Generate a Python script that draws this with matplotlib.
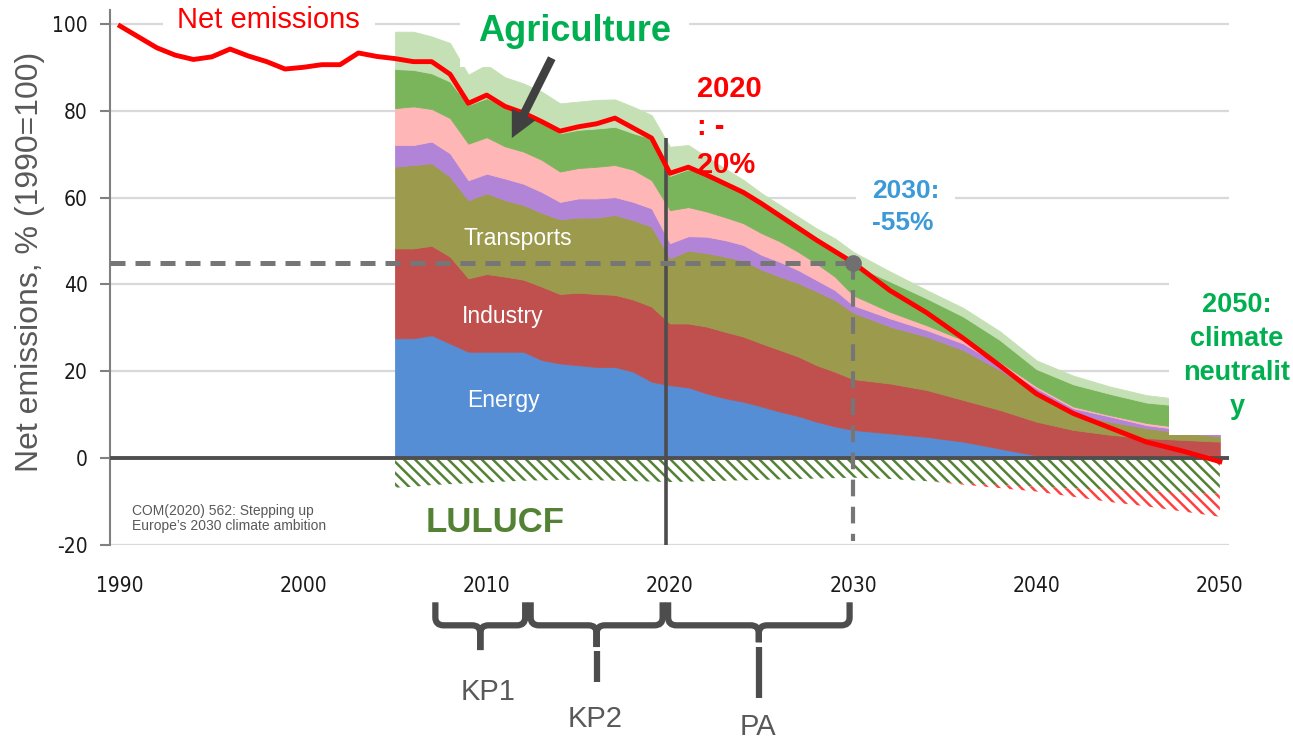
import matplotlib
matplotlib.use("Agg")
import matplotlib.pyplot as plt
from matplotlib import font_manager
from matplotlib.font_manager import FontProperties
from matplotlib.path import Path
from matplotlib.patches import PathPatch

plt.rcParams['font.family'] = ['Liberation Sans', 'DejaVu Sans']
plt.rcParams['hatch.linewidth'] = 1.8
plt.rcParams['axes.unicode_minus'] = False

# net emissions, % of 1990
line_years = list(range(1990, 2031)) + list(range(2032, 2051, 2))
net_emissions = [99.5, 97.0, 94.5, 92.8, 91.8, 92.4, 94.2, 92.6, 91.3, 89.6,
                 90.0, 90.6, 90.6, 93.3, 92.5, 92.0, 91.3, 91.3, 88.4, 81.7,
                 83.6, 81.0, 79.5, 77.5, 75.3, 76.3, 77.0, 78.3, 76.0, 73.7,
                 65.6, 67.0, 65.2, 63.2, 61.2, 58.6, 55.8, 53.0, 50.2, 47.6,
                 45.0, 38.6, 33.5, 27.6, 21.3, 14.8, 10.3, 7.0, 3.7, 1.6, -0.8]

# sector emissions (stacked), % of 1990
sector_years = list(range(2005, 2031)) + list(range(2032, 2051, 2))
energy = [27.6, 27.6, 28.3, 26.4, 24.5, 24.5, 24.5, 24.5, 22.6, 21.8,
          21.4, 21.0, 21.0, 19.9, 17.6, 16.8, 16.3, 14.9, 13.8, 13.0,
          11.9, 10.7, 9.7, 8.4, 7.3, 6.5,
          5.7, 4.9, 3.8, 2.2, 0.6, 0.3, 0.3, 0.3, 0.3, 0.3]
industry = [20.7, 20.7, 20.6, 20.0, 16.9, 17.9, 17.3, 16.6, 16.9, 16.0,
            16.7, 16.8, 16.6, 16.6, 17.3, 14.2, 14.7, 15.4, 15.3, 15.0,
            14.5, 14.2, 13.7, 13.0, 12.6, 11.7,
            11.5, 10.8, 9.6, 8.9, 7.8, 6.2, 5.1, 4.3, 3.9, 3.5]
transports = [18.8, 19.2, 19.0, 18.4, 18.0, 18.6, 17.6, 17.2, 17.0, 17.2,
              17.3, 17.6, 18.4, 18.3, 18.4, 15.0, 16.8, 16.9, 17.3, 17.5,
              17.0, 16.9, 16.9, 17.0, 16.5, 15.3,
              13.1, 12.3, 11.5, 9.2, 6.6, 3.8, 3.0, 2.3, 1.6, 1.2]
purple_sector = [5.0, 4.6, 5.0, 5.4, 4.6, 4.5, 5.0, 4.9, 4.8, 4.0,
                 4.4, 4.4, 4.1, 4.2, 4.2, 3.5, 3.3, 3.8, 3.8, 3.6,
                 3.4, 3.4, 3.0, 2.6, 2.3, 1.7,
                 1.9, 1.5, 1.5, 1.1, 1.1, 1.2, 1.2, 0.7, 0.7, 0.8]
pink_sector = [8.5, 8.9, 7.5, 8.1, 8.4, 8.4, 7.4, 7.4, 7.4, 7.0,
               7.0, 7.3, 7.4, 7.4, 6.5, 7.6, 6.7, 5.8, 5.3, 5.0,
               5.0, 4.7, 4.2, 3.8, 3.1, 2.3,
               1.5, 1.1, 0.8, 0.8, 0.4, 0.4, 0.3, 0.5, 0.5, 0.3]
agriculture = [9.0, 8.4, 8.2, 8.4, 8.9, 9.0, 9.1, 8.8, 9.2, 8.8,
               8.8, 8.8, 8.8, 8.4, 9.6, 7.9, 8.7, 8.5, 7.8, 7.2,
               7.0, 6.1, 5.7, 5.7, 6.0, 7.0,
               7.0, 6.2, 5.4, 5.0, 4.0, 5.1, 4.9, 4.7, 5.0, 5.4]
other_sectors = [8.6, 8.8, 8.5, 8.9, 7.0, 7.7, 6.8, 6.9, 6.5, 6.9,
                 6.5, 6.6, 6.3, 6.1, 5.4, 6.7, 5.6, 4.1, 3.4, 2.8,
                 2.2, 2.3, 2.4, 2.4, 2.8, 3.0,
                 2.3, 1.9, 2.0, 2.0, 2.0, 2.0, 1.7, 1.7, 1.5, 1.5]
# sinks
lulucf = [-6.8, -6.6, -6.2, -6.0, -5.8, -5.6, -5.4, -5.2, -5.1, -5.0,
          -5.0, -5.1, -5.2, -5.3, -5.4, -5.5, -5.4, -5.3, -5.2, -5.1,
          -5.0, -4.9, -4.8, -4.7, -4.6, -4.5,
          -4.8, -5.3, -5.8, -6.2, -6.6, -7.0, -7.3, -7.6, -7.9, -8.2]
removals = [0.0, 0.0, 0.0, 0.0, 0.0, 0.0, 0.0, 0.0, 0.0, 0.0,
            0.0, 0.0, 0.0, 0.0, 0.0, 0.0, 0.0, 0.0, 0.0, 0.0,
            0.0, 0.0, 0.0, 0.0, 0.0, 0.0,
            0.0, 0.0, -0.3, -0.7, -1.1, -1.9, -2.8, -3.5, -4.4, -5.3]

target_year, target_level = 2030, 45
ref_year = 2019.8

periods = ['KP1', 'KP2', 'PA']
brace_spans = [(2007.2, 2012.1), (2012.4, 2019.6), (2019.9, 2029.8)]

sector_colors = ['#558ed5', '#c0504d', '#9c9a4c', '#b284d8', '#ffb6b6',
                 '#7ab55c', '#c5e0b4']


def narrow_font():
    # look for a narrow / condensed sans face for the tick labels
    fonts = font_manager.fontManager.ttflist
    for f in fonts:
        if f.name in ('Liberation Sans Narrow', 'Arial Narrow') and f.weight in (400, 'normal') \
                and f.style == 'normal':
            return FontProperties(fname=f.fname), 16
    for f in fonts:
        cond = 'Condensed' in f.name or f.stretch in ('condensed', 'semi-condensed')
        if cond and ('Sans' in f.name or 'Roboto' in f.name) and f.style == 'normal' \
                and f.weight in (400, 'normal'):
            return FontProperties(fname=f.fname), 15
    return FontProperties(family='Liberation Sans'), 15


fig = plt.figure(figsize=(12.93, 7.44), dpi=100)
ax = fig.add_axes([0.0851, 0.2675, 0.8654, 0.7191])
x_left = 1989.45
ax.set_xlim(x_left, 2050.5)
ax.set_ylim(-20, 103.2)

ax.set_yticks(range(-20, 101, 20))
ax.set_xticks(range(1990, 2051, 10))
ax.grid(axis='y', color='#d9d9d9', lw=1.6)
ax.set_axisbelow(True)
for s in ['top', 'right', 'bottom']:
    ax.spines[s].set_visible(False)
ax.spines['left'].set_color('#808080')
ax.spines['left'].set_linewidth(1.5)

tick_fp, tick_size = narrow_font()
ax.tick_params(axis='y', length=7, width=1.5, color='#808080', pad=9,
               labelcolor='#1a1a1a')
ax.tick_params(axis='x', length=0, pad=22, labelcolor='#1a1a1a')
for lbl in ax.get_xticklabels() + ax.get_yticklabels():
    lbl.set_fontproperties(tick_fp)
    lbl.set_fontsize(tick_size)

# stacked sectors
ax.stackplot(sector_years, energy, industry, transports, purple_sector,
             pink_sector, agriculture, other_sectors, colors=sector_colors,
             linewidth=0.6, edgecolor='face', zorder=1)

# LULUCF and extra removals (hatched)
ax.fill_between(sector_years, 0, lulucf, facecolor='none',
                edgecolor='#548235', hatch='\\\\\\', linewidth=0, zorder=1)
low = [a + b for a, b in zip(lulucf, removals)]
ax.fill_between(sector_years, lulucf, low, facecolor='none',
                edgecolor='#ff4040', hatch='\\\\\\', linewidth=0, zorder=1)

ax.axhline(0, color='#4f4f4f', lw=2.8, zorder=4)
ax.vlines(ref_year, -20, 73.7, color='#4d4d4d', lw=2.6, zorder=4)

# 2030 target
ax.plot([x_left, target_year], [target_level, target_level], color='#767676',
        lw=3.6, ls=(0, (3, 2)), zorder=4)
ax.plot([target_year, target_year], [target_level, -19], color='#767676',
        lw=3.0, ls=(0, (4, 2.5)), zorder=4)

ax.plot(line_years, net_emissions, color='#ff0000', lw=3.5, zorder=6,
        solid_joinstyle='round')
ax.plot(target_year, target_level, 'o', ms=11, color='#707070', zorder=7)

white = dict(boxstyle='square,pad=0.5', fc='white', ec='none')

ax.text(1998.1, 99.0, 'Net emissions', ha='center', va='baseline',
        fontsize=21, color='#ff0000', bbox=white, zorder=3)
ax.text(2014.8, 96.1, 'Agriculture', ha='center', va='baseline',
        fontsize=26, weight='bold', color='#00b050', bbox=white, zorder=3)
ax.annotate('', xy=(2011.37, 73.7), xytext=(2013.55, 92.1),
            arrowprops=dict(facecolor='#404040', edgecolor='none', width=6,
                            headwidth=19, headlength=19, shrink=0),
            zorder=7)

ax.text(2021.48, 88.2, '2020\n: -\n20%', ha='left', va='top', fontsize=21,
        weight='bold', color='#ff0000', linespacing=1.45, zorder=7)
ax.text(2031.03, 64.3, '2030:\n-55%', ha='left', va='top', fontsize=19,
        weight='bold', color='#3d9ad9', linespacing=1.45,
        bbox=dict(boxstyle='square,pad=0.6', fc='white', ec='none'), zorder=3)
ax.text(2050.94, 38.3, '2050:\nclimate\nneutralit\ny', ha='center', va='top',
        multialignment='center', fontsize=19.5, weight='bold',
        color='#00b050', linespacing=1.4,
        bbox=dict(boxstyle='square,pad=0.55', fc='white', ec='none'), zorder=3)

ax.text(2011.7, 49.1, 'Transports', ha='center', va='baseline', fontsize=16.5,
        color='white', zorder=3)
ax.text(2010.9, 31.1, 'Industry', ha='center', va='baseline', fontsize=16.5,
        color='white', zorder=3)
ax.text(2010.9, 11.75, 'Energy', ha='center', va='baseline', fontsize=16.5,
        color='white', zorder=3)
ax.text(2010.45, -17.0, 'LULUCF', ha='center', va='baseline', fontsize=25,
        weight='bold', color='#548235', zorder=3)
ax.text(1990.64, -17.3, "COM(2020) 562: Stepping up\nEurope\u2019s 2030 climate ambition",
        ha='left', va='bottom', fontsize=10, color='#595959', linespacing=1.1,
        zorder=3)

fig.text(30 / 1293, 1 - 262 / 744, 'Net emissions, % (1990=100)', rotation=90,
         ha='center', va='center', fontsize=23, color='#595959')


# braces under the axis for the commitment periods
def brace(x0, x1, y_top, y_bar, y_tip, rx=0.45, ry=1.8):
    xm = (x0 + x1) / 2
    verts, codes = [], []
    for xe, sgn in ((x0, 1), (x1, -1)):
        verts += [(xe, y_top), (xe, y_bar + ry), (xe, y_bar), (xe + sgn * rx, y_bar),
                  (xm - sgn * rx, y_bar), (xm, y_bar), (xm, y_bar - ry), (xm, y_tip)]
        codes += [Path.MOVETO, Path.LINETO, Path.CURVE3, Path.CURVE3,
                  Path.LINETO, Path.CURVE3, Path.CURVE3, Path.LINETO]
    patch = PathPatch(Path(verts, codes), fill=False, lw=4.5, ec='#4d4d4d',
                      clip_on=False, capstyle='butt', joinstyle='round')
    ax.add_patch(patch)
    return xm


brace_tips = [-44.2, -43.5, -42.4]
stems = [None, (-44.4, -51.6), (-43.6, -55.3)]
label_pos = [(2010.1, -55.8), (2015.9, -62.0), (2024.8, -63.8)]
for name, (x0, x1), tip, stem, (lx, ly) in zip(periods, brace_spans, brace_tips,
                                                stems, label_pos):
    xm = brace(x0, x1, -33.2, -38.5, tip)
    if stem:
        ax.plot([xm, xm], list(stem), color='#4d4d4d', lw=4.5, clip_on=False,
                solid_capstyle='butt')
    ax.text(lx, ly, name, ha='center', va='baseline', fontsize=21,
            color='#595959')

fig.savefig('out.png', dpi=100)
